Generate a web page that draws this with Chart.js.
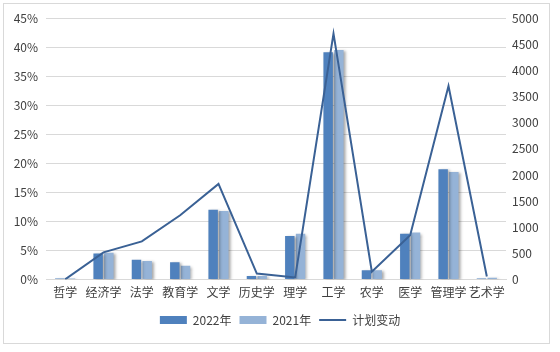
<!DOCTYPE html>
<html>
<head>
<meta charset="utf-8">
<script src="https://cdn.jsdelivr.net/npm/chart.js@4"></script>
<style>
  html, body { margin: 0; padding: 0; background: #fff; }
  #wrap { width: 560px; height: 352px; position: relative; }
</style>
</head>
<body>
<div id="wrap"><canvas id="chart"></canvas></div>
<script>
// ---- data ----
const categories = ['哲学', '经济学', '法学', '教育学', '文学', '历史学', '理学', '工学', '农学', '医学', '管理学', '艺术学'];
const share2022 = [0.2, 4.5, 3.4, 3.0, 12.0, 0.6, 7.5, 39.1, 1.6, 7.9, 19.0, 0.2];
const share2021 = [0.2, 4.6, 3.2, 2.4, 11.8, 0.6, 7.9, 39.5, 1.6, 8.1, 18.5, 0.3];
const planChange = [5, 520, 730, 1230, 1830, 115, 40, 4700, 150, 850, 3700, 60];
const seriesNames = ['2022年', '2021年', '计划变动'];

const FONT = '"Noto Sans CJK SC", "Noto Sans", sans-serif';
const TEXT = '#404040';
const GRID = '#D9D9D9';

// outer frame like the Excel chart area
const framePlugin = {
    id: 'frame',
    beforeDraw(chart) {
        const ctx = chart.ctx;
        ctx.save();
        ctx.fillStyle = '#fff';
        ctx.fillRect(0, 0, chart.width, chart.height);
        ctx.strokeStyle = GRID;
        ctx.lineWidth = 1;
        ctx.strokeRect(3.5, 3.5, 546, 340);
        ctx.restore();
    }
};

// soft drop shadow on the bars
const barShadow = {
    id: 'barShadow',
    beforeDatasetDraw(chart, args) {
        if (args.meta.type !== 'bar') return;
        const ctx = chart.ctx;
        ctx.save();
        ctx.shadowColor = 'rgba(0,0,0,0.35)';
        ctx.shadowBlur = 3;
        ctx.shadowOffsetX = 2;
        ctx.shadowOffsetY = 1;
    },
    afterDatasetDraw(chart, args) {
        if (args.meta.type !== 'bar') return;
        chart.ctx.restore();
    }
};

new Chart(document.getElementById('chart'), {
    data: {
        labels: categories,
        datasets: [
            {
                type: 'bar',
                label: seriesNames[0],
                data: share2022,
                backgroundColor: '#4F81BD',
                borderWidth: 0,
                yAxisID: 'y',
                order: 1,
                categoryPercentage: 0.56,
                barPercentage: 0.88
            },
            {
                type: 'bar',
                label: seriesNames[1],
                data: share2021,
                backgroundColor: '#95B3D7',
                borderWidth: 0,
                yAxisID: 'y',
                order: 1,
                categoryPercentage: 0.56,
                barPercentage: 0.88
            },
            {
                type: 'line',
                label: seriesNames[2],
                data: planChange,
                borderColor: '#3A6195',
                backgroundColor: '#3A6195',
                borderWidth: 2,
                pointRadius: 0,
                tension: 0,
                yAxisID: 'y1',
                order: 0
            }
        ]
    },
    options: {
        responsive: true,
        maintainAspectRatio: false,
        animation: false,
        layout: { padding: { left: 0, right: 0, top: 18, bottom: 16 } },
        plugins: {
            tooltip: { enabled: false },
            legend: {
                position: 'bottom',
                labels: {
                    usePointStyle: true,
                    pointStyleWidth: 27,
                    boxHeight: 8,
                    padding: 8,
                    color: TEXT,
                    font: { family: FONT, size: 12 },
                    sort: (a, b) => a.datasetIndex - b.datasetIndex,
                    generateLabels(chart) {
                        return chart.data.datasets.map((ds, i) => ({
                            text: ds.label,
                            datasetIndex: i,
                            fillStyle: ds.type === 'bar' ? ds.backgroundColor : ds.borderColor,
                            strokeStyle: ds.type === 'bar' ? ds.backgroundColor : ds.borderColor,
                            lineWidth: ds.type === 'bar' ? 0 : 2,
                            pointStyle: ds.type === 'bar' ? 'rect' : 'line',
                            fontColor: TEXT,
                            hidden: false
                        }));
                    }
                }
            }
        },
        scales: {
            x: {
                grid: { display: false, drawTicks: false },
                border: { color: GRID },
                ticks: {
                    color: TEXT,
                    padding: 6,
                    maxRotation: 0,
                    autoSkip: false,
                    font: { family: FONT, size: 12 }
                }
            },
            y: {
                position: 'left',
                min: 0,
                max: 45,
                grid: { color: GRID, drawTicks: false },
                border: { display: false },
                ticks: {
                    stepSize: 5,
                    padding: 8,
                    color: TEXT,
                    font: { family: FONT, size: 12 },
                    callback: v => v + '%'
                },
                afterFit(scale) { scale.width = 46; }
            },
            y1: {
                position: 'right',
                min: 0,
                max: 5000,
                grid: { display: false, drawTicks: false },
                border: { display: false },
                ticks: {
                    stepSize: 500,
                    padding: 6,
                    color: TEXT,
                    font: { family: FONT, size: 12 },
                    callback: v => String(v)
                },
                afterFit(scale) { scale.width = 54; }
            }
        }
    },
    plugins: [framePlugin, barShadow]
});
</script>
</body>
</html>
